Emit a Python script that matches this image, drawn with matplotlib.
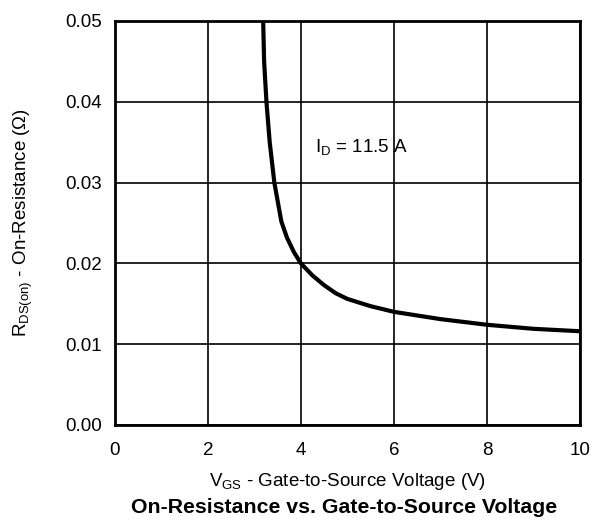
import matplotlib.pyplot as plt
import numpy as np

plt.rcParams['font.family'] = ['Liberation Sans', 'DejaVu Sans']
plt.rcParams['mathtext.fontset'] = 'custom'
plt.rcParams['mathtext.rm'] = 'Liberation Sans'

# V_GS (V) vs R_DS(on) (ohm)
vgs = [3.19, 3.21, 3.26, 3.33, 3.43, 3.58, 3.7, 3.85, 4.0, 4.25, 4.5, 4.75, 5.0, 5.5, 6.0, 7.0, 8.0, 9.0, 10.0]
rds = [0.050, 0.045, 0.040, 0.035, 0.030, 0.0252, 0.0232, 0.0214, 0.0200, 0.0185, 0.0173, 0.0163, 0.0156, 0.0147, 0.0140, 0.0131, 0.0124, 0.0119, 0.0116]

xticks = [0, 2, 4, 6, 8, 10]
yticks = [0.00, 0.01, 0.02, 0.03, 0.04, 0.05]

fig = plt.figure(figsize=(6.01, 5.24), dpi=100)
ax = fig.add_axes([0.191, 0.189, 0.774, 0.771])

ax.plot(vgs, rds, color='black', lw=3)

ax.set_xlim(0, 10)
ax.set_ylim(0, 0.05)
ax.set_xticks(xticks)
ax.set_yticks(yticks)
ax.set_yticklabels([f'{v:.2f}' for v in yticks])
ax.tick_params(length=0, labelsize=13.5)
ax.tick_params(axis='x', pad=12)
ax.tick_params(axis='y', pad=9)
ax.grid(True, color='black', lw=1.2)
for s in ax.spines.values():
    s.set_linewidth(2)

ax.text(4.3, 0.0344, r'$\mathregular{I_D}$ = 11.5 A', fontsize=13.5, va='center')

ax.set_ylabel(r'$\mathregular{R_{DS(on)}}$ - On-Resistance ($\Omega$)', fontsize=13.5, labelpad=22)
ax.set_xlabel(r'$\mathregular{V_{GS}}$ - Gate-to-Source Voltage (V)', fontsize=13.5, labelpad=9)
fig.text(0.572, 0.032, 'On-Resistance vs. Gate-to-Source Voltage', fontsize=15.3,
         fontweight='bold', ha='center', va='center')

fig.savefig('out.png', dpi=100)
